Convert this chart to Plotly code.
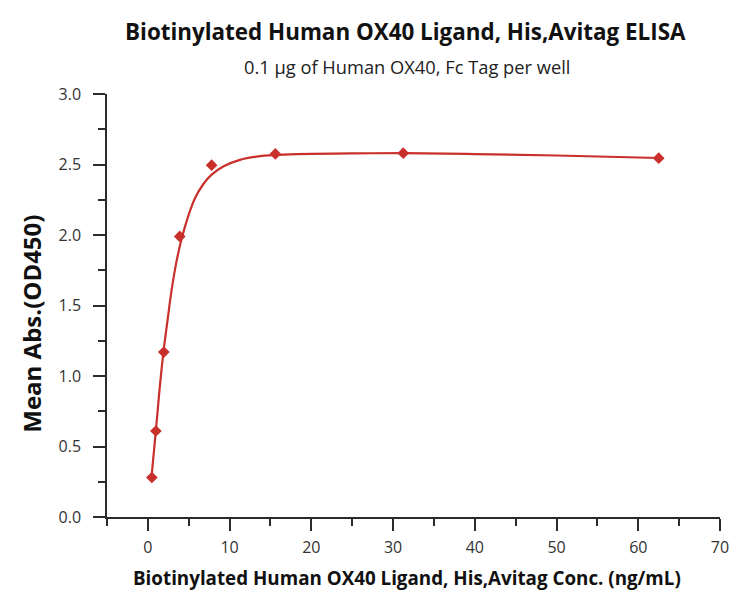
import plotly.graph_objects as go

# Measured data points
conc = [0.49, 0.98, 1.95, 3.9, 7.8, 15.6, 31.25, 62.5]
absorb = [0.28, 0.61, 1.17, 1.99, 2.495, 2.575, 2.58, 2.545]

# Fitted curve
fit_x = [0.45, 0.98, 1.42, 1.9, 2.37, 2.9, 3.5, 4.1, 4.9, 5.75, 6.77, 7.8, 9.22,
         11.26, 13.3, 15.55, 18.2, 25.0, 31.25, 40.0, 50.0, 62.5]
fit_y = [0.286, 0.612, 0.898, 1.167, 1.379, 1.607, 1.811, 1.967, 2.127, 2.259, 2.36, 2.428, 2.486,
         2.533, 2.556, 2.568, 2.574, 2.579, 2.58, 2.574, 2.564, 2.546]

x_ticks = [0, 10, 20, 30, 40, 50, 60, 70]
y_ticks = [0.0, 0.5, 1.0, 1.5, 2.0, 2.5, 3.0]

red = "#c9302c"
font = "Open Sans"
axcol = "#2b2b2b"

fig = go.Figure()
fig.add_trace(go.Scatter(x=fit_x, y=fit_y, mode="lines",
                         line=dict(color=red, width=2.2, shape="spline", smoothing=1.0),
                         hoverinfo="skip", showlegend=False))
fig.add_trace(go.Scatter(x=conc, y=absorb, mode="markers",
                         marker=dict(symbol="diamond", size=9, color=red), showlegend=False))

axis_common = dict(showline=True, linecolor=axcol, linewidth=1.5, ticks="outside",
                   ticklen=12, tickwidth=1.5, tickcolor=axcol, showgrid=False, zeroline=False,
                   automargin=False,
                   tickfont=dict(family=font, size=16, color="#333333"))

fig.update_layout(
    width=734, height=591,
    margin=dict(l=107, r=14, t=94, b=74),
    paper_bgcolor="white", plot_bgcolor="white",
    xaxis=dict(range=[-5, 70], tickvals=x_ticks, ticktext=[str(v) for v in x_ticks],
               ticklabelstandoff=3,
               minor=dict(dtick=5, tick0=0, ticks="outside", ticklen=7, tickcolor=axcol, tickwidth=1.5),
               **axis_common),
    yaxis=dict(range=[0, 3.0], tickvals=y_ticks, ticktext=[f"{v:.1f}" for v in y_ticks],
               ticklabelstandoff=9,
               minor=dict(dtick=0.25, tick0=0, ticks="outside", ticklen=7, tickcolor=axcol, tickwidth=1.5),
               **axis_common),
    annotations=[
        dict(text="<b>Biotinylated Human OX40 Ligand, His,Avitag ELISA</b>", xref="paper", yref="paper",
             x=0.487, y=1, yanchor="middle", yshift=63, showarrow=False,
             font=dict(family=font, size=22.4, color="#111111")),
        dict(text="0.1 µg of Human OX40, Fc Tag per well", xref="paper", yref="paper",
             x=0.49, y=1, yanchor="middle", yshift=28, showarrow=False,
             font=dict(family=font, size=18.3, color="#222222")),
        dict(text="<b>Biotinylated Human OX40 Ligand, His,Avitag Conc. (ng/mL)</b>", xref="paper", yref="paper",
             x=0.0, xanchor="left", xshift=24, y=0, yanchor="middle", yshift=-61, showarrow=False,
             font=dict(family=font, size=18.8, color="#111111")),
        dict(text="<b>Mean Abs.(OD450)</b>", xref="paper", yref="paper", textangle=-90,
             x=0, xanchor="center", xshift=-75, y=0.457, yanchor="middle", showarrow=False,
             font=dict(family=font, size=24, color="#111111")),
    ],
)

fig.write_html("out.html", config={"displayModeBar": False},
               post_script="document.body.style.margin='0px';")
